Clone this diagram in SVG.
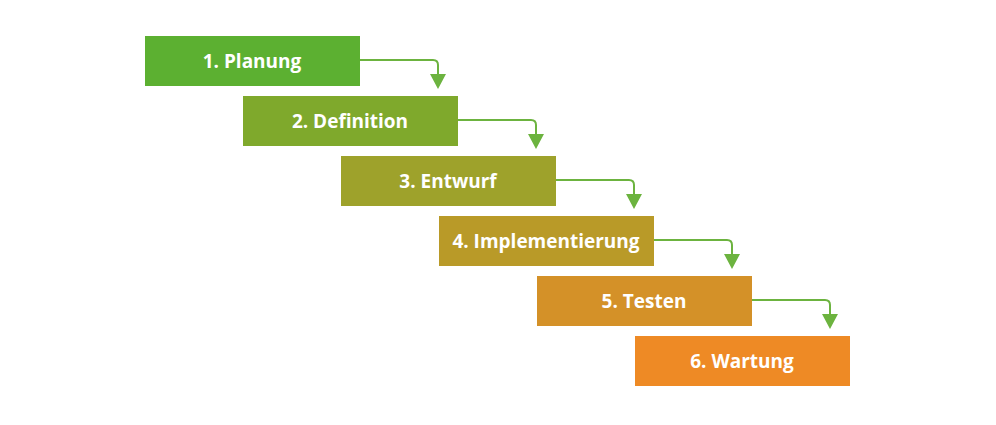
<svg xmlns="http://www.w3.org/2000/svg" width="996" height="425" viewBox="0 0 996 425">
<defs><style>
.t{font-family:"Open Sans","Liberation Sans",sans-serif;font-weight:bold;font-size:19px;fill:#fff;text-anchor:middle}
.c{fill:none;stroke:#6cb33f;stroke-width:2}
.a{fill:#6cb33f}
</style></defs>
<rect width="996" height="425" fill="#fff"/>
<g id="n1"><rect x="145" y="36" width="215" height="50" fill="#5cb031"/><text class="t" x="252" y="68">1. Planung</text></g>
<g id="n2"><rect x="243" y="96" width="215" height="50" fill="#7fa92c"/><text class="t" x="350" y="128">2. Definition</text></g>
<g id="n3"><rect x="341" y="156" width="215" height="50" fill="#9ea22b"/><text class="t" x="448" y="188">3. Entwurf</text></g>
<g id="n4"><rect x="439" y="216" width="215" height="50" fill="#b99a28"/><text class="t" x="546" y="248">4. Implementierung</text></g>
<g id="n5"><rect x="537" y="276" width="215" height="50" fill="#d49128"/><text class="t" x="644" y="308">5. Testen</text></g>
<g id="n6"><rect x="635" y="336" width="215" height="50" fill="#ee8a25"/><text class="t" x="742" y="368">6. Wartung</text></g>
<g id="connectors">
<path class="c" d="M360 60H433Q438 60 438 65V76"/><path class="a" d="M430 74H446L438 89Z"/>
<path class="c" d="M458 120H531Q536 120 536 125V136"/><path class="a" d="M528 134H544L536 149Z"/>
<path class="c" d="M556 180H629Q634 180 634 185V196"/><path class="a" d="M626 194H642L634 209Z"/>
<path class="c" d="M654 240H727Q732 240 732 245V256"/><path class="a" d="M724 254H740L732 269Z"/>
<path class="c" d="M752 300H825Q830 300 830 305V316"/><path class="a" d="M822 314H838L830 329Z"/>
</g>
</svg>
